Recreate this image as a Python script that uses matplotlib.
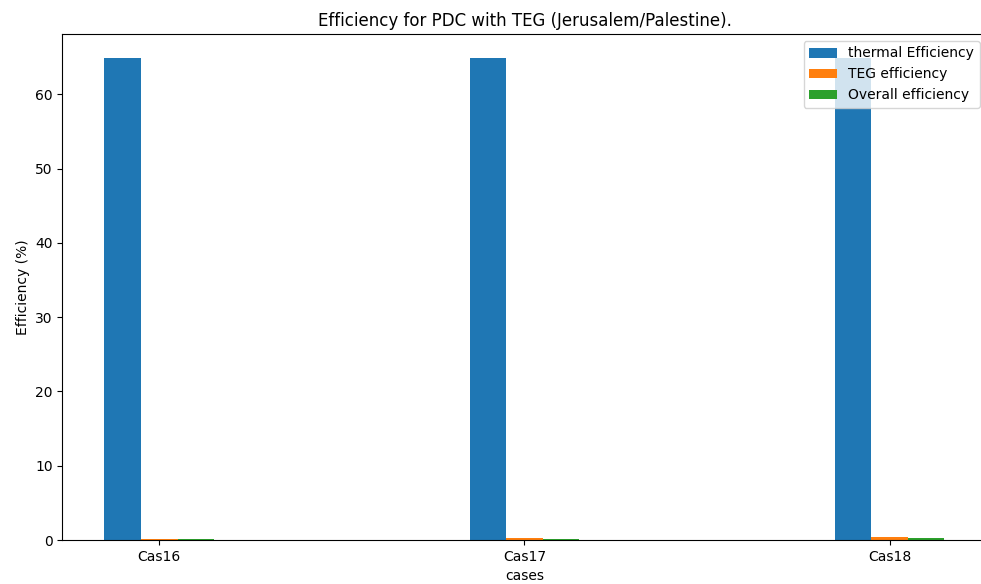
import matplotlib
matplotlib.use("Agg")
import matplotlib.pyplot as plt
import numpy as np

cases = ["Cas16", "Cas17", "Cas18"]
thermal_eff = [64.9, 64.9, 64.9]
teg_eff = [0.13, 0.27, 0.40]
overall_eff = [0.09, 0.10, 0.26]

series = [
    ("thermal Efficiency", thermal_eff, "#1f77b4"),
    ("TEG efficiency", teg_eff, "#ff7f0e"),
    ("Overall efficiency", overall_eff, "#2ca02c"),
]

fig, ax = plt.subplots(figsize=(9.81, 5.84), dpi=100)
fig.subplots_adjust(left=62.5 / 981, right=986.5 / 981, top=1 - 34 / 584, bottom=1 - 540 / 584)

x = np.arange(len(cases))
width = 0.1
for i, (label, vals, color) in enumerate(series):
    ax.bar(x + (i - 1) * width, vals, width, label=label, color=color)

ax.set_xticks(x)
ax.set_xticklabels(cases, rotation=0)
ax.set_title("Efficiency for PDC with TEG (Jerusalem/Palestine).")
ax.set_xlabel("cases")
ax.set_ylabel("Efficiency (%)")
ax.legend(loc="upper right")

fig.savefig("out.png", dpi=100)
